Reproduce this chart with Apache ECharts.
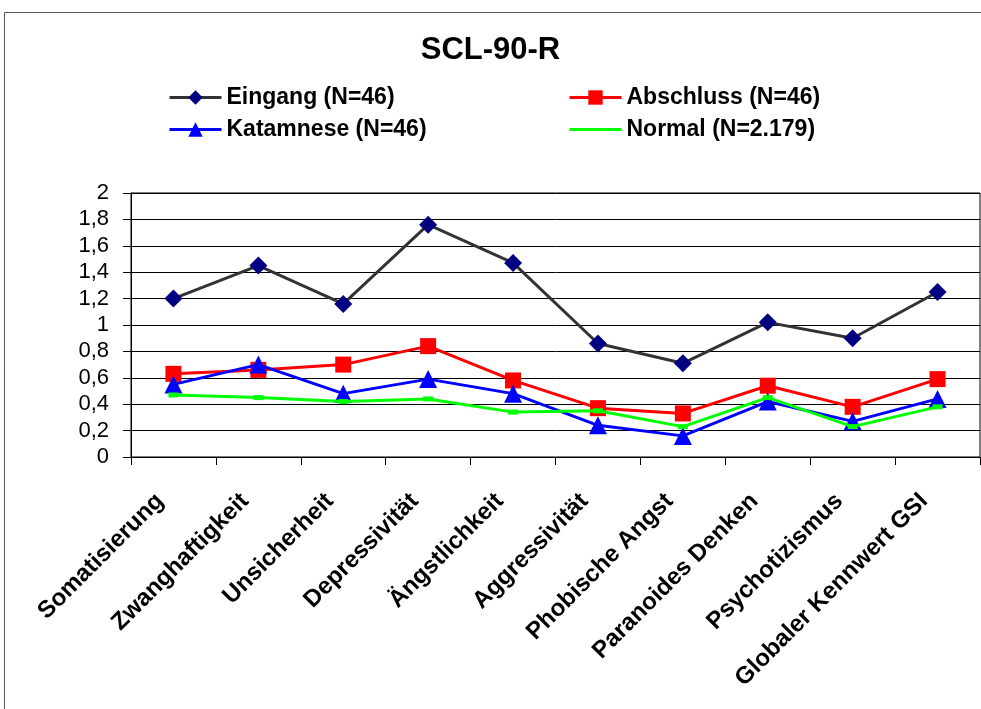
<!DOCTYPE html>
<html>
<head>
<meta charset="utf-8">
<script src="https://cdn.jsdelivr.net/npm/echarts@6/dist/echarts.min.js"></script>
<style>
  html, body { margin: 0; padding: 0; background: #fff; }
  #chart { width: 981px; height: 709px; }
</style>
</head>
<body>
<div id="chart"></div>
<script>
// SCL-90-R scale means per measurement point
const categories = [
  'Somatisierung', 'Zwanghaftigkeit', 'Unsicherheit', 'Depressivität',
  'Ängstlichkeit', 'Aggressivität', 'Phobische Angst', 'Paranoides Denken',
  'Psychotizismus', 'Globaler Kennwert GSI'
];
const eingang    = [1.20, 1.45, 1.16, 1.76, 1.47, 0.86, 0.71, 1.02, 0.90, 1.25];
const abschluss  = [0.63, 0.66, 0.70, 0.84, 0.58, 0.37, 0.33, 0.54, 0.38, 0.59];
const katamnese  = [0.55, 0.70, 0.48, 0.59, 0.48, 0.24, 0.16, 0.42, 0.27, 0.44];
const normal     = [0.47, 0.45, 0.42, 0.44, 0.34, 0.35, 0.23, 0.45, 0.23, 0.38];

const seriesNames = ['Eingang (N=46)', 'Abschluss (N=46)', 'Katamnese (N=46)', 'Normal (N=2.179)'];
const yTicks = { min: 0, max: 2, interval: 0.2 };

const FONT = 'Arial, "Liberation Sans", sans-serif';

const chart = echarts.init(document.getElementById('chart'), null, { renderer: 'canvas' });

function fmtY(v) {
  const r = Math.round(v * 10) / 10;
  return Number.isInteger(r) ? String(r) : r.toFixed(1).replace('.', ',');
}

const legendText = { fontFamily: FONT, fontWeight: 'bold', fontSize: 23, color: '#000' };
// plain thin bar for the reference population (no visible marker)
const barIcon = 'path://M0,0 L52,0 L52,3 L0,3 Z';

chart.setOption({
  animation: false,
  backgroundColor: '#fff',
  graphic: [{
    type: 'rect',
    shape: { x: 4.5, y: 12.5, width: 1000, height: 720 },
    style: { fill: 'none', stroke: '#555', lineWidth: 1 },
    silent: true
  }],
  title: {
    text: 'SCL-90-R',
    left: 'center',
    top: 30,
    textStyle: { fontFamily: FONT, fontWeight: 'bold', fontSize: 31, color: '#000' }
  },
  legend: [{
    data: [seriesNames[0], seriesNames[2]],
    orient: 'vertical',
    left: 163,
    top: 81,
    itemWidth: 52,
    itemHeight: 18,
    itemGap: 9,
    lineStyle: { width: 3 },
    textStyle: legendText
  }, {
    data: [seriesNames[1], { name: seriesNames[3], icon: barIcon }],
    orient: 'vertical',
    left: 563,
    top: 81,
    itemWidth: 52,
    itemHeight: 18,
    itemGap: 9,
    lineStyle: { width: 3 },
    textStyle: legendText
  }],
  grid: {
    left: 131,
    right: 1,
    top: 193,
    bottom: 252,
    show: true,
    borderColor: '#000',
    borderWidth: 1,
    containLabel: false
  },
  xAxis: {
    type: 'category',
    data: categories,
    boundaryGap: true,
    axisLine: { lineStyle: { color: '#000', width: 1 } },
    axisTick: { show: true, length: 8, lineStyle: { color: '#000' } },
    axisLabel: {
      rotate: 45,
      interval: 0,
      margin: 27,
      padding: [0, 19, 0, 0],
      fontFamily: FONT,
      fontWeight: 'bold',
      fontSize: 24,
      color: '#000'
    },
    splitLine: { show: false }
  },
  yAxis: {
    type: 'value',
    min: yTicks.min,
    max: yTicks.max,
    interval: yTicks.interval,
    axisLine: { show: true, lineStyle: { color: '#000', width: 1 } },
    axisTick: { show: true, length: 8, lineStyle: { color: '#000' } },
    axisLabel: {
      formatter: fmtY,
      margin: 22,
      fontFamily: FONT,
      fontSize: 22,
      color: '#000'
    },
    splitLine: { show: true, lineStyle: { color: '#000', width: 1 } }
  },
  series: [{
    name: seriesNames[0],
    type: 'line',
    data: eingang,
    symbol: 'diamond',
    symbolSize: 18,
    lineStyle: { color: '#333333', width: 3 },
    itemStyle: { color: '#000080' },
    z: 2
  }, {
    name: seriesNames[1],
    type: 'line',
    data: abschluss,
    symbol: 'rect',
    symbolSize: 16,
    lineStyle: { color: '#ff0000', width: 3 },
    itemStyle: { color: '#ff0000' },
    z: 3
  }, {
    name: seriesNames[2],
    type: 'line',
    data: katamnese,
    symbol: 'triangle',
    symbolSize: 18,
    lineStyle: { color: '#0000ff', width: 3 },
    itemStyle: { color: '#0000ff' },
    z: 4
  }, {
    name: seriesNames[3],
    type: 'line',
    data: normal,
    symbol: 'rect',
    symbolSize: [10, 5],
    lineStyle: { color: '#00ff00', width: 3 },
    itemStyle: { color: '#00ff00' },
    z: 5
  }]
});
</script>
</body>
</html>
